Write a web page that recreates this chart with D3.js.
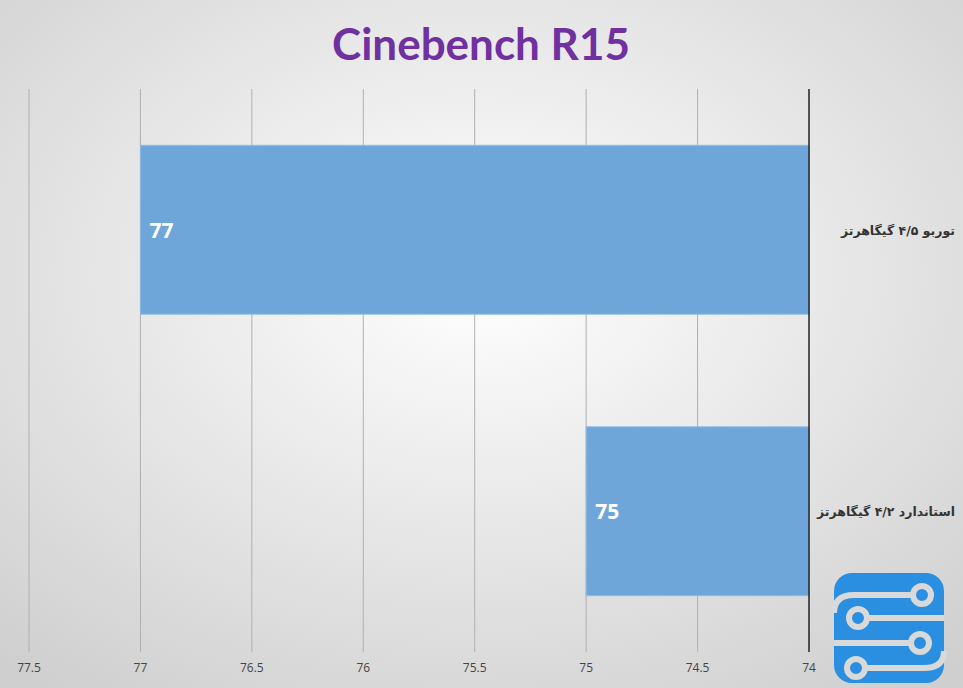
<!DOCTYPE html>
<html><head><meta charset="utf-8">
<script src="https://cdn.jsdelivr.net/npm/d3@7"></script>
<style>body{margin:0;overflow:hidden}</style>
</head><body>
<script>
const categories = ["توربو ۴/۵ گیگاهرتز", "استاندارد ۴/۲ گیگاهرتز"];
const values = [77, 75];
const ticks = [77.5, 77, 76.5, 76, 75.5, 75, 74.5, 74];
const title = "Cinebench R15";

const W = 963, H = 688;
const svg = d3.select("body").append("svg").attr("width", W).attr("height", H);
const defs = svg.append("defs");
const g = defs.append("radialGradient").attr("id","bg").attr("cx","50%").attr("cy","40%").attr("r","75%");
g.append("stop").attr("offset","0%").attr("stop-color","#ffffff");
g.append("stop").attr("offset","100%").attr("stop-color","#cfcfcf");
svg.append("rect").attr("width",W).attr("height",H).attr("fill","url(#bg)");

const x = d3.scaleLinear().domain([74, 77.5]).range([809, 29]);
const y = d3.scaleBand().domain(categories).range([89, 652]).paddingInner(0.4).paddingOuter(0.2);

svg.append("text").attr("x",481).attr("y",60).attr("text-anchor","middle")
  .attr("font-family","Lato, 'Open Sans', sans-serif").attr("font-weight","bold").attr("font-size",44)
  .attr("fill","#7030a0").text(title);

svg.append("g").selectAll("line").data(ticks.filter(t=>t!==74)).join("line")
  .attr("x1",d=>x(d)).attr("x2",d=>x(d)).attr("y1",89).attr("y2",652)
  .attr("stroke","#b0b0b0").attr("stroke-width",1);

svg.append("g").selectAll("rect").data(values).join("rect")
  .attr("x",d=>x(d)).attr("width",d=>x(74)-x(d))
  .attr("y",(d,i)=>y(categories[i])).attr("height",y.bandwidth())
  .attr("fill","#6fa6d9").attr("stroke","#8fbbe3");

svg.append("g").selectAll("text").data(values).join("text")
  .attr("x",d=>x(d)+9).attr("y",(d,i)=>y(categories[i])+y.bandwidth()/2+8)
  .attr("fill","#fff").attr("font-family","'Open Sans', sans-serif").attr("font-weight","bold").attr("font-size",21)
  .text(d=>d);

svg.append("line").attr("x1",x(74)).attr("x2",x(74)).attr("y1",89).attr("y2",652)
  .attr("stroke","#222").attr("stroke-width",1.5);

svg.append("g").selectAll("text").data(categories).join("text")
  .attr("x",955).attr("y",d=>y(d)+y.bandwidth()/2+5).attr("text-anchor","end")
  .attr("font-family","'DejaVu Sans', sans-serif").attr("font-weight","bold").attr("font-size",12.5)
  .attr("fill","#333").text(d=>d);

svg.append("g").selectAll("text").data(ticks).join("text")
  .attr("x",d=>x(d)).attr("y",672).attr("text-anchor","middle")
  .attr("font-family","'Open Sans', sans-serif").attr("font-size",12).attr("fill","#444").text(d=>d);

// logo
const L = svg.append("g").attr("transform","translate(834,573)");
L.append("rect").attr("width",110).attr("height",110).attr("rx",18).attr("fill","#2a8fe0");
const st = {stroke:"#d9d9d9","stroke-width":6,fill:"none"};
function p(d){const e=L.append("path").attr("d",d);for(const k in st)e.attr(k,st[k]);}
p("M0,40 Q0,22 20,22 L80,22");
p("M32,45 L110,45");
p("M0,70 L78,70");
p("M30,95 L90,95 Q110,95 110,78");
[[88,22],[24,45],[86,70],[22,95]].forEach(([cx,cy])=>L.append("circle").attr("cx",cx).attr("cy",cy).attr("r",9).attr("fill","#2a8fe0").attr("stroke","#d9d9d9").attr("stroke-width",6));
</script>
</body></html>
